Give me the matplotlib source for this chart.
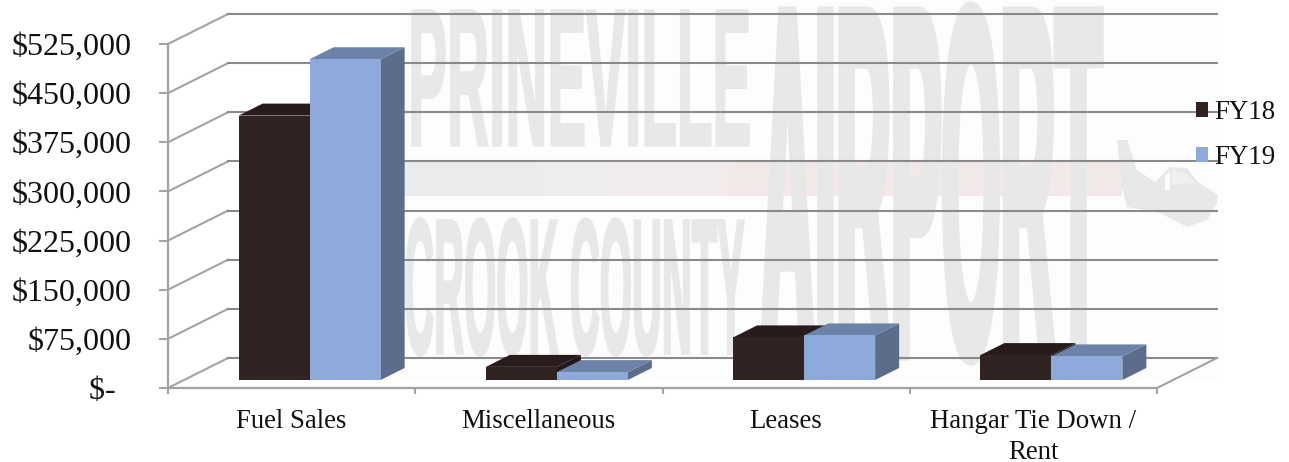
import matplotlib
matplotlib.use('Agg')
import matplotlib.pyplot as plt
from matplotlib.font_manager import FontProperties
from matplotlib.patches import Patch, PathPatch, Polygon, Rectangle
from matplotlib.path import Path
from matplotlib.text import TextPath
from matplotlib.transforms import Affine2D

# values
categories = ['Fuel Sales', 'Miscellaneous', 'Leases', 'Hangar Tie Down /\nRent']
fy18 = [403500, 20000, 65000, 38000]
fy19 = [489500, 12000, 68000, 36000]
y_ticks = [0, 75000, 150000, 225000, 300000, 375000, 450000, 525000]
y_labels = ['$-  ', '$75,000', '$150,000', '$225,000', '$300,000', '$375,000', '$450,000', '$525,000']

W, H = 1289, 462
GRID = '#8a8a8a'
SIDE = '#a3a3a3'
WATER = '#e8e8e8'

plt.rcParams['font.family'] = ['Liberation Serif', 'DejaVu Serif']

fig = plt.figure(figsize=(W / 100, H / 100), dpi=100, facecolor='white')
ax = fig.add_axes([168 / W, (H - 388) / H, 989 / W, 344 / H])
ax.set_facecolor('none')
ax.set_xlim(-0.5, 3.5)
ax.set_ylim(0, 525000)

# screen pixels, y going down, for the faded logo behind the chart
px = Affine2D().scale(1, -1).translate(0, H)

# depth of the fake 3D box in data units
DX = 60 / (989 / 4)
DY = 30 / (344 / 525000)
BAR_W = 71 / (989 / 4)


def logo_text(s, x0, x1, y0, y1, heavy):
    # the logo letters are squashed far past what a text object can do, so they go through a path
    tp = TextPath((0, 0), s, size=1, prop=FontProperties(family='Liberation Sans', weight='bold'))
    box = tp.get_extents()
    m = Affine2D().translate(-box.x0, -box.y0).scale((x1 - x0) / box.width, (y0 - y1) / box.height).translate(x0, y1)
    ax.add_patch(PathPatch(m.transform_path(Path(tp.vertices, tp.codes)), fc=WATER, ec=WATER, lw=heavy,
                           transform=px, clip_on=False, zorder=1))


def px_poly(points, color, z=1):
    ax.add_patch(Polygon(points, closed=True, fc=color, ec='none', transform=px, clip_on=False, zorder=z))


# logo picture
ax.add_patch(Rectangle((400, 0), 823, 381, fc='#fdfdfd', ec='none', transform=px, clip_on=False, zorder=0))
for x0, x1, c in [(404, 540, '#ececec'), (540, 610, '#eeecec'), (610, 730, '#f1ebeb'), (730, 1122, '#f4e9e9')]:
    ax.add_patch(Rectangle((x0, 161), x1 - x0, 35, fc=c, ec='none', transform=px, clip_on=False, zorder=0.5))
logo_text('PRINEVILLE', 412, 749, 10, 146, 1.2)
logo_text('CROOK COUNTY', 406, 744, 218, 356, 1.2)
logo_text('AIRPORT', 762, 1101, 4, 363, 4)
px_poly([(1117, 140), (1127, 140), (1137, 170), (1155, 182), (1170, 167), (1187, 168), (1198, 182), (1218, 195),
         (1217, 203), (1207, 220), (1187, 227), (1160, 213), (1127, 207), (1122, 187)], WATER)
px_poly([(1172, 170), (1186, 173), (1195, 183), (1172, 185)], '#f0f0f0', 1.1)
px_poly([(1165, 175), (1170, 172), (1170, 190), (1165, 190)], '#fdfdfd', 1.1)

# walls and floor
for v in y_ticks:
    ax.plot([-0.5, -0.5 + DX], [v, v + DY], color=SIDE, lw=1.5, clip_on=False, zorder=2)
    ax.plot([-0.5 + DX, 3.5 + DX], [v + DY, v + DY], color=GRID, lw=1.5, clip_on=False, zorder=2)
ax.plot([3.5, 3.5 + DX], [0, DY], color=SIDE, lw=1.5, clip_on=False, zorder=2)


def box3d(x, v, front, top, side):
    # bars stand about 0.3 into the floor depth and take 0.4 of it
    fx, fy = 0.3 * DX, 0.267 * DY
    sx, sy = 0.4 * DX, 0.4 * DY
    x0, x1 = x + fx, x + fx + BAR_W
    y0, y1 = fy, fy + v
    ax.add_patch(Polygon([(x1, y0), (x1 + sx, y0 + sy), (x1 + sx, y1 + sy), (x1, y1)], fc=side, ec='none', clip_on=False, zorder=3))
    ax.add_patch(Polygon([(x0, y1), (x1, y1), (x1 + sx, y1 + sy), (x0 + sx, y1 + sy)], fc=top, ec='none', clip_on=False, zorder=3))
    ax.add_patch(Rectangle((x0, y0), BAR_W, v, fc=front, ec='none', clip_on=False, zorder=3))


for i in range(len(categories)):
    box3d(i - BAR_W, fy18[i], '#322323', '#281b1b', '#241818')
    box3d(i, fy19[i], '#8eaadb', '#6c82a8', '#5c6d8c')

for s in ['top', 'right']:
    ax.spines[s].set_visible(False)
for s in ['left', 'bottom']:
    ax.spines[s].set_color(SIDE)
    ax.spines[s].set_linewidth(1.6)

ax.set_yticks(y_ticks)
ax.set_yticklabels(y_labels, fontsize=23, color='#111111')
ax.tick_params(axis='y', length=6.5, width=1.5, color=SIDE, pad=20)
ax.set_xticks([-0.5, 0.5, 1.5, 2.5, 3.5])
ax.set_xticklabels([])
ax.tick_params(axis='x', which='major', length=4.5, width=1.5, color=SIDE)
ax.set_xticks(range(len(categories)), minor=True)
ax.set_xticklabels(categories, minor=True, fontsize=19.3, color='#111111', linespacing=1.3)
ax.tick_params(axis='x', which='minor', length=0, pad=15)

handles = [Patch(fc='#322323', ec='none', label='FY18'), Patch(fc='#8eaadb', ec='none', label='FY19')]
leg = ax.legend(handles=handles, loc='upper left', bbox_to_anchor=((1196 - 168) / 989, (388 - 100) / 344),
                frameon=False, fontsize=19.4, borderpad=0, borderaxespad=0, handlelength=0.46, handleheight=0.46,
                handletextpad=0.2, labelspacing=0.74, labelcolor='#111111')
leg.set_zorder(5)

fig.savefig('out.png', dpi=100)
